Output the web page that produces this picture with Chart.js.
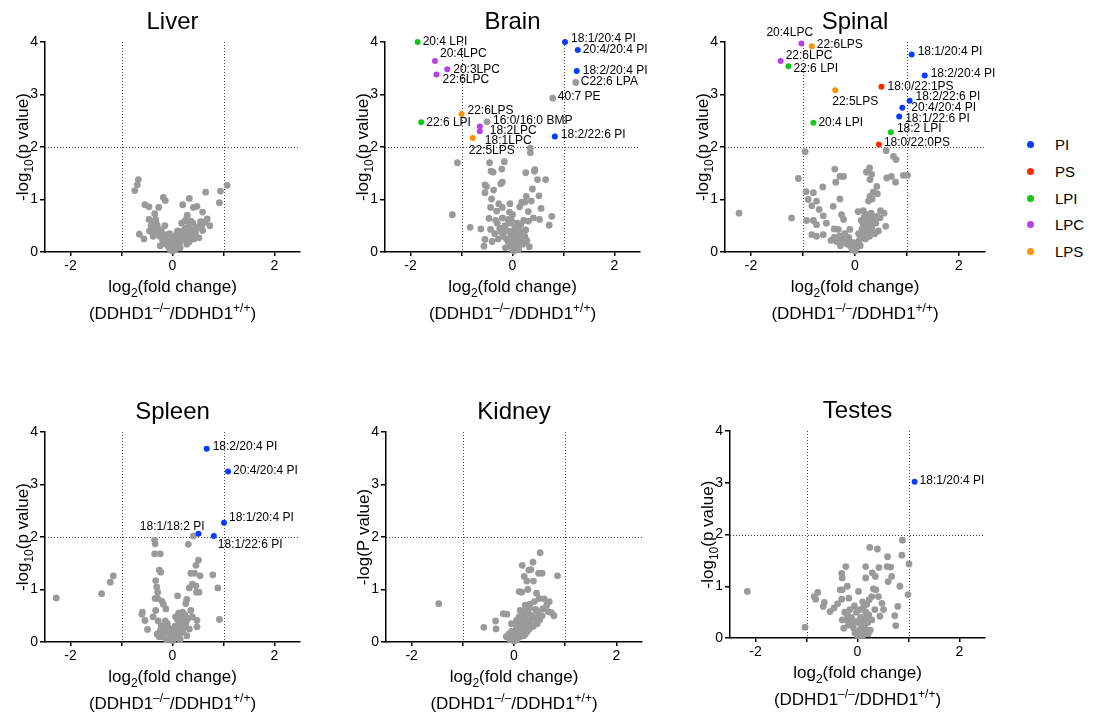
<!DOCTYPE html>
<html>
<head>
<meta charset="utf-8">
<script src="https://cdn.jsdelivr.net/npm/chart.js@4.4.1/dist/chart.umd.min.js"></script>
<style>
  html, body { margin: 0; padding: 0; background: #fff; }
  #wrap { position: relative; width: 1094px; height: 717px; overflow: hidden; font-family: "Liberation Sans", Arial, sans-serif; }
  #wrap canvas { position: absolute; }
  .lg { position: absolute; font-size: 15px; color: #000; line-height: 18px; }
  .lg span { position: absolute; width: 7px; height: 7px; border-radius: 50%; left: -28px; top: 5px; }
</style>
</head>
<body>
<div id="wrap"></div>
<script>
// lipid classes shown in the legend
const lipidClasses = ['PI', 'PS', 'LPI', 'LPC', 'LPS'];

// gray points [log2 fold change, -log10 p]
const liverGray = [
  [-0.67,1.38],[-0.69,1.28],[-0.74,1.17],[-0.18,1.04],[-0.14,0.98],[1.07,1.27],[0.94,1.16],[0.65,1.14],
  [0.92,0.94],[0.33,1.02],[0.20,0.90],[-0.54,0.90],[-0.46,0.86],[-0.27,0.85],[-0.35,0.73],[0.41,0.85],
  [0.48,0.87],[0.59,0.76],[0.68,0.63],[0.73,0.50],[0.63,0.57],[0.29,0.70],[0.36,0.59],[-0.46,0.62],
  [-0.33,0.62],[-0.65,0.34],[-0.56,0.25],[0.52,0.27],[0.59,0.41],[0.46,0.43],
  [-0.40,0.45],[-0.35,0.40],[-0.30,0.50],[-0.28,0.35],[-0.25,0.30],[-0.22,0.42],[-0.20,0.25],[-0.18,0.20],
  [-0.15,0.33],[-0.12,0.15],[-0.10,0.22],[-0.08,0.10],[-0.05,0.05],[-0.03,0.12],[0.00,0.02],[0.02,0.08],
  [0.04,0.15],[0.06,0.05],[0.08,0.20],[0.10,0.12],[0.12,0.28],[0.14,0.18],[0.16,0.35],[0.18,0.25],
  [0.20,0.40],[0.22,0.30],[0.25,0.45],[0.27,0.22],[0.30,0.38],[0.32,0.50],[0.35,0.30],[0.38,0.42],
  [0.40,0.55],[0.45,0.35],[0.48,0.48],[0.05,0.30],[-0.06,0.35],[0.10,0.40],[-0.15,0.50],[0.18,0.55],
  [-0.32,0.55],[0.25,0.60],[-0.38,0.30],[0.28,0.15],[-0.24,0.12],[0.33,0.20],[0.00,0.25],[-0.45,0.40],
  [0.42,0.25],[0.15,0.08],[-0.36,0.58],[-0.42,0.50],[0.55,0.58],[0.58,0.52],[-0.02,0.20],[0.08,0.35]
];
const brainGray = [
  [-1.08,1.70],[-1.18,0.71],[-0.83,0.47],[-0.56,0.11],[0.35,1.98],[0.35,1.89],[-0.45,1.70],[-0.42,1.54],
  [-0.38,1.52],[-0.21,1.58],[-0.16,1.72],[-0.54,1.28],[-0.51,1.25],[-0.37,1.18],[-0.20,1.33],[-0.23,1.30],
  [-0.54,1.13],[-0.41,1.01],[-0.27,0.92],[-0.20,0.85],[-0.43,0.85],[-0.05,0.92],[0.14,0.86],[0.18,0.95],
  [0.24,0.95],[0.27,1.06],[0.26,1.51],[0.43,1.54],[0.44,1.57],[0.49,1.38],[0.65,1.38],[0.39,1.20],
  [0.52,1.07],[0.37,0.97],[0.56,0.83],[0.53,0.62],[0.77,0.68],[0.72,0.51],[0.33,0.10],[0.25,0.19],
  [0.16,0.29],[-0.62,0.44],[-0.54,0.24],[-0.43,0.43],[-0.46,0.64],[-0.33,0.60],[-0.31,0.78],[-0.06,0.76],
  [0.00,0.71],[0.31,0.77],[0.41,0.65],[0.31,0.59],
  [-0.30,0.55],[-0.25,0.45],[-0.22,0.38],[-0.18,0.30],[-0.15,0.50],[-0.12,0.25],[-0.10,0.40],[-0.08,0.18],
  [-0.05,0.10],[-0.03,0.30],[0.00,0.05],[0.02,0.15],[0.04,0.22],[0.06,0.35],[0.08,0.12],[0.10,0.28],
  [0.12,0.45],[0.14,0.20],[0.16,0.52],[0.18,0.38],[0.20,0.15],[0.22,0.60],[0.24,0.30],[0.26,0.42],
  [-0.28,0.25],[-0.35,0.35],[-0.20,0.65],[-0.06,0.55],[0.05,0.48],[-0.14,0.08],[0.12,0.05],[0.28,0.22],
  [-0.40,0.20],[0.00,0.40],[-0.02,0.60],[-0.16,0.42],[-0.09,0.62],[0.09,0.55],[0.03,0.02],[-0.04,0.22]
];
const spinalGray = [
  [-2.23,0.74],[-1.22,0.65],[-0.96,1.91],[-1.09,1.40],[-0.94,1.15],[-0.80,1.13],[-0.90,1.00],[-0.74,0.97],
  [-0.83,0.88],[-0.69,0.81],[-0.62,1.24],[-0.93,0.60],[-0.80,0.60],[-0.74,0.52],[-0.55,0.55],[-0.61,0.69],
  [-0.83,0.33],[-0.74,0.30],[-0.61,0.33],[-0.39,1.58],[-0.37,1.33],[-0.29,1.44],[-0.22,1.44],[-0.29,1.01],
  [-0.42,0.87],[-0.26,0.71],[-0.22,0.62],[-0.40,0.44],[-0.32,0.43],[-0.46,0.22],[-0.10,0.43],[0.28,1.60],
  [0.22,1.52],[0.32,1.48],[0.29,1.38],[0.42,1.25],[0.35,1.14],[0.43,1.11],[0.29,1.06],[0.26,0.97],
  [0.33,1.01],[0.60,1.93],[0.74,1.82],[0.79,1.76],[0.61,1.41],[0.70,1.44],[0.78,1.33],[0.93,1.46],
  [1.01,1.46],[0.49,0.79],[0.56,0.74],[0.48,0.65],[0.59,0.49],[0.06,0.77],[0.16,0.79],[0.22,0.71],
  [0.31,0.74],[0.42,0.68],[0.34,0.57],[0.13,0.41],[0.10,0.33],
  [-0.30,0.30],[-0.25,0.25],[-0.20,0.35],[-0.18,0.20],[-0.15,0.15],[-0.12,0.28],[-0.08,0.10],[-0.05,0.05],
  [0.00,0.02],[0.03,0.08],[0.05,0.15],[0.08,0.22],[0.10,0.12],[0.12,0.30],[0.14,0.45],[0.16,0.55],
  [0.18,0.38],[0.20,0.25],[0.22,0.50],[0.24,0.62],[0.26,0.40],[0.28,0.30],[0.30,0.55],[0.32,0.45],
  [0.35,0.65],[0.38,0.35],[-0.35,0.20],[-0.40,0.28],[-0.28,0.12],[0.18,0.68],[0.40,0.55],[0.45,0.40],
  [0.07,0.35],[-0.02,0.18],[0.12,0.60],[-0.10,0.20],[0.02,0.12],[0.15,0.28],[0.20,0.42],[-0.22,0.22]
];
const spleenGray = [
  [-2.28,0.84],[-1.39,0.92],[-1.22,1.14],[-1.16,1.26],[-0.35,1.94],[-0.34,1.87],[-0.35,1.68],[-0.24,1.68],
  [-0.26,1.37],[-0.23,1.33],[-0.33,1.17],[-0.31,1.05],[-0.29,0.95],[-0.34,0.83],[-0.29,0.83],[-0.21,0.78],
  [-0.18,0.72],[-0.59,0.57],[-0.60,0.53],[-0.54,0.41],[-0.49,0.24],[-0.33,0.60],[-0.38,0.48],[-0.13,0.63],
  [0.41,2.02],[0.31,1.86],[0.51,1.56],[0.46,1.46],[0.43,1.31],[0.36,1.31],[0.54,1.26],[0.79,1.28],
  [0.89,1.03],[0.39,1.10],[0.46,1.07],[0.33,1.03],[0.47,0.95],[0.52,0.95],[0.10,0.88],[0.28,0.81],
  [0.26,0.73],[0.36,0.60],[0.39,0.48],[0.48,0.41],[0.48,0.29],[0.92,0.43],[0.20,0.57],
  [-0.25,0.20],[-0.22,0.30],[-0.20,0.10],[-0.18,0.15],[-0.15,0.25],[-0.12,0.05],[-0.10,0.35],[-0.08,0.18],
  [-0.05,0.08],[-0.02,0.12],[0.00,0.03],[0.03,0.20],[0.05,0.30],[0.08,0.10],[0.10,0.42],[0.12,0.25],
  [0.14,0.15],[0.16,0.35],[0.18,0.48],[0.20,0.20],[0.22,0.40],[0.25,0.30],[0.28,0.12],[0.30,0.45],
  [0.33,0.25],[-0.28,0.40],[-0.30,0.15],[0.06,0.48],[0.15,0.05],[-0.04,0.25],[0.12,0.55],[0.24,0.52],
  [-0.26,0.10],[-0.14,0.40],[0.02,0.06],[0.18,0.30],[0.27,0.38]
];
const kidneyGray = [
  [-1.47,0.73],[-0.59,0.28],[-0.36,0.40],[-0.21,0.54],[-0.14,0.53],[-0.35,0.25],[0.51,1.70],[0.16,1.46],
  [0.37,1.52],[0.29,1.37],[0.33,1.38],[0.48,1.31],[0.55,1.31],[0.85,1.26],[0.20,1.25],[0.25,1.16],
  [0.38,1.16],[0.10,0.96],[0.15,0.95],[0.27,1.00],[0.44,0.93],[0.49,0.83],[0.59,0.82],[0.69,0.77],
  [0.64,0.70],[0.40,0.77],[0.31,0.72],[0.56,0.63],[0.44,0.60],[0.67,0.58],[0.78,0.50],[0.73,0.56],
  [0.25,0.65],[0.18,0.54],[0.12,0.60],[0.05,0.41],
  [-0.15,0.10],[-0.10,0.15],[-0.08,0.05],[-0.05,0.20],[-0.02,0.08],[0.00,0.02],[0.02,0.12],[0.04,0.25],
  [0.06,0.05],[0.08,0.18],[0.10,0.30],[0.12,0.10],[0.14,0.40],[0.16,0.22],[0.18,0.35],[0.20,0.48],
  [0.22,0.15],[0.24,0.30],[0.26,0.42],[0.28,0.55],[0.30,0.25],[0.32,0.38],[0.35,0.50],[0.38,0.30],
  [0.40,0.45],[0.42,0.62],[0.45,0.35],[0.48,0.52],[0.50,0.42],[0.10,0.48],[0.05,0.35],[0.15,0.58],
  [0.30,0.65],[0.22,0.70],[0.55,0.50],[-0.05,0.35],[0.03,0.18],[0.13,0.22],[0.19,0.12],[0.26,0.20]
];
const testesGray = [
  [-2.16,0.90],[-1.03,0.21],[-0.78,0.88],[-0.85,0.80],[-0.82,0.75],[-0.65,0.69],[-0.67,0.61],[-0.54,0.51],
  [-0.39,0.66],[-0.46,0.58],[-0.31,1.25],[-0.30,1.16],[-0.23,1.38],[-0.20,1.00],[-0.30,0.93],[-0.34,0.93],
  [-0.31,0.75],[-0.17,0.77],[0.02,0.90],[0.10,0.70],[0.24,1.75],[0.39,1.72],[0.16,1.38],[0.29,1.26],
  [0.35,1.19],[0.16,1.16],[0.42,1.36],[0.59,1.57],[0.58,1.38],[0.65,1.37],[0.60,1.09],[0.67,1.19],
  [0.88,1.89],[0.87,1.60],[1.01,1.43],[0.83,1.00],[0.99,0.84],[0.79,0.61],[0.73,0.43],[0.75,0.24],
  [0.31,0.95],[0.36,0.93],[0.28,0.80],[0.23,0.74],[0.41,0.80],[0.48,0.67],[0.51,0.55],[0.44,0.42],
  [0.34,0.55],[0.10,0.10],[-0.27,0.19],[-0.20,0.35],
  [-0.25,0.50],[-0.20,0.45],[-0.15,0.55],[-0.12,0.40],[-0.10,0.30],[-0.08,0.20],[-0.05,0.10],[-0.02,0.50],
  [0.00,0.05],[0.02,0.30],[0.04,0.15],[0.06,0.40],[0.08,0.25],[0.10,0.05],[0.12,0.35],[0.14,0.20],
  [0.16,0.50],[0.18,0.10],[0.20,0.30],[0.22,0.45],[0.25,0.15],[-0.30,0.35],[-0.18,0.25],[0.05,0.55],
  [0.12,0.60],[0.28,0.35],[-0.06,0.62],[0.18,0.65],[-0.04,0.32],[0.07,0.12],[0.15,0.38],[0.21,0.08]
];

// labelled lipids [name, class (null = not significant), log2 FC, -log10 p]
const liverHits = [];
const brainHits = [
  ['20:4 LPI','LPI',-1.86,4.00], ['20:4LPC','LPC',-1.52,3.64], ['20:3LPC','LPC',-1.28,3.48],
  ['22:6LPC','LPC',-1.49,3.38], ['22:6LPS','LPS',-1.00,2.63], ['22:6 LPI','LPI',-1.79,2.47],
  ['16:0/16:0 BMP',null,-0.50,2.48], ['18:2LPC','LPC',-0.64,2.39], ['18:1LPC','LPC',-0.64,2.30],
  ['22:5LPS','LPS',-0.78,2.17], ['18:1/20:4 PI','PI',1.03,4.00], ['20:4/20:4 PI','PI',1.28,3.85],
  ['18:2/20:4 PI','PI',1.26,3.45], ['C22:6 LPA',null,1.24,3.23], ['40:7 PE',null,0.79,2.93],
  ['18:2/22:6 PI','PI',0.83,2.20]
];
const spinalHits = [
  ['20:4LPC','LPC',-1.03,3.97], ['22:6LPS','LPS',-0.83,3.92], ['22:6LPC','LPC',-1.43,3.64],
  ['22:6 LPI','LPI',-1.28,3.54], ['22:5LPS','LPS',-0.38,3.08], ['20:4 LPI','LPI',-0.80,2.46],
  ['18:0/22:1PS','PS',0.51,3.15], ['18:1/20:4 PI','PI',1.09,3.76], ['18:2/20:4 PI','PI',1.34,3.36],
  ['18:2/22:6 PI','PI',1.05,2.88], ['20:4/20:4 PI','PI',0.91,2.75], ['18:1/22:6 PI','PI',0.85,2.58],
  ['18:2 LPI','LPI',0.69,2.28], ['18:0/22:0PS','PS',0.46,2.05]
];
const spleenHits = [
  ['18:2/20:4 PI','PI',0.67,3.68], ['20:4/20:4 PI','PI',1.09,3.25], ['18:1/20:4 PI','PI',1.01,2.27],
  ['18:1/18:2 PI','PI',0.51,2.06], ['18:1/22:6 PI','PI',0.81,2.02]
];
const kidneyHits = [];
const testesHits = [['18:1/20:4 PI','PI',1.12,3.02]];

const xTicks = [-2, -1, 0, 1, 2];
const yTicks = [0, 1, 2, 3, 4];

// styles
const FONT = '"Liberation Sans", Arial, sans-serif';
const classColors = { PI: '#0a3bff', PS: '#ff2a00', LPI: '#14c814', LPC: '#b543e3', LPS: '#ff9200' };
const GRAY = '#9a9a9a';

// label placement: [dx, dy, align] from the point, default right of it
const labelPos = {
  brain: {
    '20:4 LPI': [5, 0], '20:4LPC': [5, -7], '20:3LPC': [6, 0], '22:6LPC': [6, 5], '22:6LPS': [6, -3],
    '22:6 LPI': [5, 0], '16:0/16:0 BMP': [6, -1], '18:2LPC': [10, 4], '18:1LPC': [5, 9], '22:5LPS': [-4, 13],
    '18:1/20:4 PI': [6, -3], '20:4/20:4 PI': [5, 0], '18:2/20:4 PI': [6, 0], 'C22:6 LPA': [5, -1],
    '40:7 PE': [5, -1], '18:2/22:6 PI': [6, -2]
  },
  spinal: {
    '20:4LPC': [-35, -11], '22:6LPS': [5, -2], '22:6LPC': [5, -5], '22:6 LPI': [5, 3], '22:5LPS': [-3, 11],
    '20:4 LPI': [5, 0], '18:0/22:1PS': [6, 0], '18:1/20:4 PI': [6, -3], '18:2/20:4 PI': [6, -2],
    '18:2/22:6 PI': [6, -4], '20:4/20:4 PI': [9, 0], '18:1/22:6 PI': [6, 2], '18:2 LPI': [6, -4],
    '18:0/22:0PS': [5, -2]
  },
  spleen: {
    '18:2/20:4 PI': [6, -2], '20:4/20:4 PI': [5, -1], '18:1/20:4 PI': [5, -5],
    '18:1/18:2 PI': [6, -7, 'right'], '18:1/22:6 PI': [4, 9]
  },
  testes: { '18:1/20:4 PI': [5, -1] }
};

const yTitleStd = [['-log', 0], ['10', -1], ['(p value)', 0]];
const yTitleKidney = [['-log(P value)', 0]];
const xTitle1 = [['log', 0], ['2', -1], ['(fold change)', 0]];
const xTitle2 = [['(DDHD1', 0], ['\u2013/\u2013', 1], ['/DDHD1', 0], ['+/+', 1], [')', 0]];

const panels = [
  { id: 'liver',  title: 'Liver',  gray: liverGray,  hits: liverHits,  left: 0,   top: 0,   plotW: 255, plotH: 210, yTitle: yTitleStd },
  { id: 'brain',  title: 'Brain',  gray: brainGray,  hits: brainHits,  left: 340, top: 0,   plotW: 255, plotH: 210, yTitle: yTitleStd },
  { id: 'spinal', title: 'Spinal', gray: spinalGray, hits: spinalHits, left: 680, top: 0,   plotW: 260, plotH: 210, yTitle: yTitleStd },
  { id: 'spleen', title: 'Spleen', gray: spleenGray, hits: spleenHits, left: 0,   top: 390, plotW: 255, plotH: 210, yTitle: yTitleStd },
  { id: 'kidney', title: 'Kidney', gray: kidneyGray, hits: kidneyHits, left: 341, top: 390, plotW: 256, plotH: 210, yTitle: yTitleKidney },
  { id: 'testes', title: 'Testes', gray: testesGray, hits: testesHits, left: 685, top: 389, plotW: 255, plotH: 207, yTitle: yTitleStd }
];

const CW = 340, CH = 330, PAD_TOP = 42, Y_AXIS_W = 45;
const panelById = {};

function fontStr(size) { return size + 'px ' + FONT; }

function drawRich(ctx, segs, x, y, size) {
  const sizes = segs.map(s => s[1] ? Math.round(size * 0.68) : size);
  const widths = segs.map((s, i) => { ctx.font = fontStr(sizes[i]); return ctx.measureText(s[0]).width; });
  let cx = x - widths.reduce((a, b) => a + b, 0) / 2;
  ctx.textAlign = 'left';
  ctx.textBaseline = 'alphabetic';
  segs.forEach((s, i) => {
    ctx.font = fontStr(sizes[i]);
    const dy = s[1] < 0 ? size * 0.28 : s[1] > 0 ? -size * 0.42 : 0;
    ctx.fillText(s[0], cx, y + dy);
    cx += widths[i];
  });
}

const overlay = {
  id: 'overlay',
  beforeDatasetsDraw(chart) {
    const ctx = chart.ctx, ca = chart.chartArea;
    const xs = chart.scales.x, ys = chart.scales.y;
    ctx.save();
    ctx.strokeStyle = '#444';
    ctx.lineWidth = 1;
    ctx.setLineDash([1, 2]);
    ctx.beginPath();
    [-1, 1].forEach(v => {
      const px = Math.round(xs.getPixelForValue(v)) + 0.5;
      ctx.moveTo(px, ca.top); ctx.lineTo(px, ca.bottom);
    });
    const py = Math.round(ys.getPixelForValue(2)) + 0.5;
    ctx.moveTo(ca.left, py); ctx.lineTo(ca.right, py);
    ctx.stroke();
    ctx.restore();
  },
  afterDatasetsDraw(chart) {
    const p = panelById[chart.canvas.id];
    const ctx = chart.ctx;
    const xs = chart.scales.x, ys = chart.scales.y;
    const pos = labelPos[p.id] || {};
    ctx.save();
    ctx.fillStyle = '#000';
    ctx.font = fontStr(12);
    ctx.textBaseline = 'middle';
    p.hits.forEach(h => {
      const o = pos[h[0]] || [6, 0];
      ctx.textAlign = o[2] || 'left';
      ctx.fillText(h[0], xs.getPixelForValue(h[2]) + o[0], ys.getPixelForValue(h[3]) + o[1]);
    });
    ctx.restore();
  },
  afterDraw(chart) {
    const p = panelById[chart.canvas.id];
    const ctx = chart.ctx, ca = chart.chartArea;
    const cx = (ca.left + ca.right) / 2;
    ctx.save();
    ctx.fillStyle = '#000';
    ctx.font = fontStr(24);
    ctx.textAlign = 'center';
    ctx.textBaseline = 'middle';
    ctx.fillText(p.title, cx, ca.top - 20);
    drawRich(ctx, xTitle1, cx, ca.bottom + 40, 17);
    drawRich(ctx, xTitle2, cx, ca.bottom + 67, 17);
    ctx.translate(ca.left - 23, (ca.top + ca.bottom) / 2);
    ctx.rotate(-Math.PI / 2);
    drawRich(ctx, p.yTitle, 0, 6, 17);
    ctx.restore();
  }
};

const wrap = document.getElementById('wrap');

panels.forEach(p => {
  panelById[p.id] = p;
  const cv = document.createElement('canvas');
  cv.id = p.id;
  cv.width = CW; cv.height = CH;
  cv.style.left = p.left + 'px';
  cv.style.top = p.top + 'px';
  wrap.appendChild(cv);

  const grayPts = p.gray.map(d => ({ x: d[0], y: d[1] }))
    .concat(p.hits.filter(h => !h[1]).map(h => ({ x: h[2], y: h[3] })));
  const datasets = [];
  lipidClasses.forEach(c => {
    const pts = p.hits.filter(h => h[1] === c).map(h => ({ x: h[2], y: h[3] }));
    if (pts.length) datasets.push({
      label: c, data: pts, backgroundColor: classColors[c], pointRadius: 3,
      borderWidth: 0, clip: false, order: 1
    });
  });
  datasets.push({
    label: 'other', data: grayPts, backgroundColor: GRAY, pointRadius: 3.4,
    borderWidth: 0, clip: false, order: 2
  });

  const axisGrid = { display: true, drawOnChartArea: false, drawTicks: true, color: '#000', lineWidth: 1.5 };
  new Chart(cv.getContext('2d'), {
    type: 'scatter',
    data: { datasets },
    options: {
      responsive: false,
      animation: false,
      devicePixelRatio: 1,
      layout: { padding: { top: PAD_TOP, right: CW - Y_AXIS_W - p.plotW, bottom: 0, left: 0 } },
      plugins: { legend: { display: false }, tooltip: { enabled: false } },
      scales: {
        x: {
          type: 'linear', min: -2.5, max: 2.5,
          afterBuildTicks: s => { s.ticks = xTicks.map(v => ({ value: v })); },
          afterFit: s => { s.height = CH - PAD_TOP - p.plotH; },
          ticks: {
            callback: v => (v % 2 === 0 ? String(v) : ''), autoSkip: false, maxRotation: 0,
            color: '#000', font: { family: FONT, size: 14 }, padding: 2
          },
          grid: Object.assign({ tickLength: 4 }, axisGrid),
          border: { display: true, color: '#000', width: 1.5 }
        },
        y: {
          type: 'linear', min: 0, max: 4,
          afterBuildTicks: s => { s.ticks = yTicks.map(v => ({ value: v })); },
          afterFit: s => { s.width = Y_AXIS_W; },
          ticks: { color: '#000', font: { family: FONT, size: 14 }, padding: 2 },
          grid: Object.assign({ tickLength: 5 }, axisGrid),
          border: { display: true, color: '#000', width: 1.5 }
        }
      }
    },
    plugins: [overlay]
  });
});

// legend
lipidClasses.forEach((c, i) => {
  const d = document.createElement('div');
  d.className = 'lg';
  d.style.left = '1055px';
  d.style.top = (136 + i * 26.8) + 'px';
  const dot = document.createElement('span');
  dot.style.background = classColors[c];
  d.appendChild(dot);
  d.appendChild(document.createTextNode(c));
  wrap.appendChild(d);
});
</script>
</body>
</html>
